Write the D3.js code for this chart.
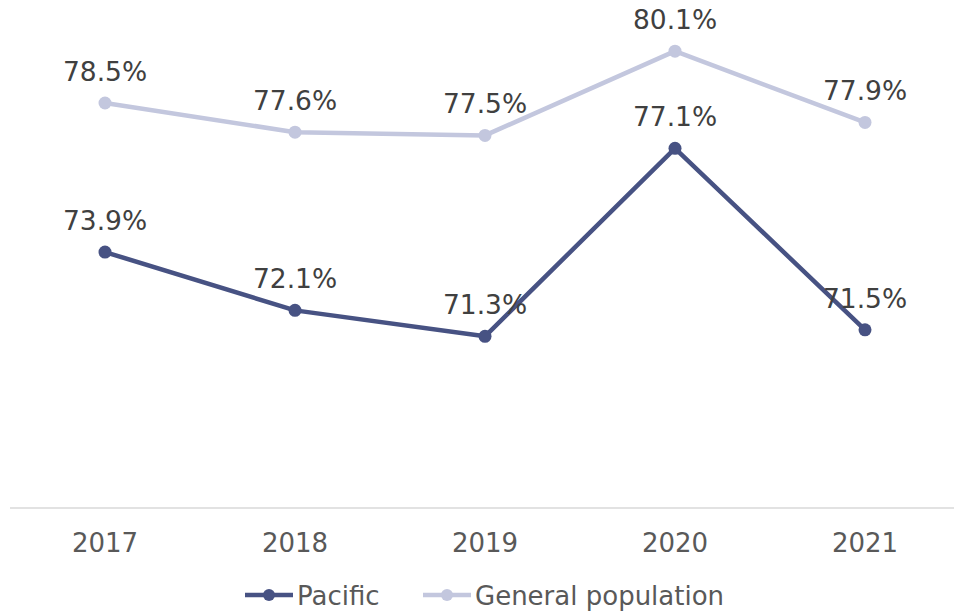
<!DOCTYPE html>
<html>
<head>
<meta charset="utf-8">
<script src="https://cdn.jsdelivr.net/npm/d3@7"></script>
<style>
  html, body { margin: 0; padding: 0; background: #fff; }
  svg { display: block; font-family: "DejaVu Sans", Verdana, sans-serif; }
</style>
</head>
<body>
<svg id="chart" width="954" height="612"></svg>
<script>
// values
const years = ["2017", "2018", "2019", "2020", "2021"];
const pacific = [73.9, 72.1, 71.3, 77.1, 71.5];
const general = [78.5, 77.6, 77.5, 80.1, 77.9];
const seriesNames = ["Pacific", "General population"];
const seriesColors = ["#475283", "#c3c7de"];

const svg = d3.select("#chart");
const baseY = 508;

const x = d3.scaleBand().domain(years).range([10, 960]);
const y = d3.scaleLinear().domain([66, 82]).range([baseY, baseY - 16 * 32.4]);

// axis line + labels
const xAxis = svg.append("g")
  .attr("transform", `translate(0,${baseY})`)
  .call(d3.axisBottom(x).tickSize(0).tickPadding(25.5));
xAxis.select(".domain").attr("stroke", "#d9d9d9").attr("stroke-width", 1.5)
  .attr("d", "M10,0H954");
xAxis.selectAll("text")
  .attr("font-size", 26)
  .attr("fill", "#595959")
  .attr("font-family", "DejaVu Sans, Verdana, sans-serif");

const line = d3.line()
  .x((d, i) => x(years[i]) + x.bandwidth() / 2)
  .y(d => y(d));

[general, pacific].forEach((vals, k) => {
  const idx = k === 0 ? 1 : 0;
  const color = seriesColors[idx];
  const g = svg.append("g");
  g.append("path")
    .datum(vals)
    .attr("d", line)
    .attr("fill", "none")
    .attr("stroke", color)
    .attr("stroke-width", 4.5)
    .attr("stroke-linejoin", "round");
  g.selectAll("circle")
    .data(vals)
    .join("circle")
    .attr("cx", (d, i) => x(years[i]) + x.bandwidth() / 2)
    .attr("cy", d => y(d))
    .attr("r", 6.5)
    .attr("fill", color);
  g.selectAll("text")
    .data(vals)
    .join("text")
    .attr("x", (d, i) => x(years[i]) + x.bandwidth() / 2)
    .attr("y", d => y(d) - 22)
    .attr("text-anchor", "middle")
    .attr("font-size", 26.5)
    .attr("fill", "#404040")
    .text(d => d.toFixed(1) + "%");
});

// legend
const legend = svg.append("g").attr("transform", "translate(0,595)");
const legendX = [245, 423];
seriesNames.forEach((name, i) => {
  const lg = legend.append("g").attr("transform", `translate(${legendX[i]},0)`);
  lg.append("line").attr("x1", 0).attr("x2", 48).attr("y1", 0).attr("y2", 0)
    .attr("stroke", seriesColors[i]).attr("stroke-width", 4.5);
  lg.append("circle").attr("cx", 24).attr("cy", 0).attr("r", 6).attr("fill", seriesColors[i]);
  lg.append("text").attr("x", 52).attr("y", 10)
    .attr("font-size", 26).attr("fill", "#595959").text(name);
});
</script>
</body>
</html>
